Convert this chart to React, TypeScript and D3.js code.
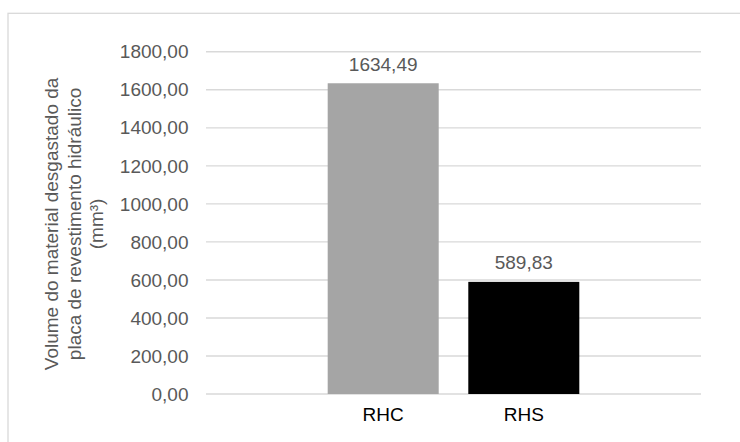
import React from "react";
import * as d3 from "d3";

const categories = ["RHC", "RHS"];
const values = [1634.49, 589.83];
const barColors = ["#a5a5a5", "#000000"];
const yTicks = [0, 200, 400, 600, 800, 1000, 1200, 1400, 1600, 1800];
const yTitleLines = [
  "Volume do material desgastado da",
  "placa de revestimento hidráulico",
  "(mm³)",
];

const W = 740;
const H = 442;
const plot = { left: 206, right: 701, top: 51.8, bottom: 394 };
const FONT = "'Liberation Sans', Arial, sans-serif";
const TEXT = "#595959";
const GRID = "#d9d9d9";

const locale = d3.formatLocale({
  decimal: ",",
  thousands: ".",
  grouping: [100],
  currency: ["", ""],
});
const fmt = locale.format(".2f");

export default function App() {
  const y = d3.scaleLinear().domain([0, 1800]).range([plot.bottom, plot.top]);
  const x = d3
    .scaleBand<string>()
    .domain(categories)
    .range([plot.left, plot.right])
    .paddingInner(0.2105)
    .paddingOuter(0.8655);

  const midY = (plot.top + plot.bottom) / 2 + 1;
  const titleX = [58, 80.5, 103];

  return (
    <svg
      width={W}
      height={H}
      style={{ position: "absolute", left: 0, top: 0, background: "#fff" }}
      fontFamily={FONT}
    >
      <rect x={0} y={0} width={W} height={H} fill="#fff" />
      <rect
        x={8}
        y={13.3}
        width={W + 10}
        height={H + 10}
        fill="none"
        stroke={GRID}
        strokeWidth={1.3}
      />
      {yTicks.map((t) => (
        <g key={t}>
          <line
            x1={plot.left}
            x2={plot.right}
            y1={y(t)}
            y2={y(t)}
            stroke={GRID}
            strokeWidth={1.4}
          />
          <text
            x={188.5}
            y={y(t)}
            dy="0.35em"
            textAnchor="end"
            fontSize={19}
            fill={TEXT}
          >
            {fmt(t)}
          </text>
        </g>
      ))}
      {categories.map((c, i) => (
        <g key={c}>
          <rect
            x={x(c)}
            y={y(values[i])}
            width={x.bandwidth()}
            height={y(0) - y(values[i])}
            fill={barColors[i]}
          />
          <text
            x={(x(c) as number) + x.bandwidth() / 2}
            y={y(values[i]) - 12.5}
            textAnchor="middle"
            fontSize={19}
            fill={TEXT}
          >
            {fmt(values[i])}
          </text>
          <text
            x={(x(c) as number) + x.bandwidth() / 2}
            y={421}
            textAnchor="middle"
            fontSize={19}
            fill="#000"
          >
            {c}
          </text>
        </g>
      ))}
      {yTitleLines.map((line, i) => (
        <text
          key={i}
          transform={`translate(${titleX[i]},${midY}) rotate(-90)`}
          textAnchor="middle"
          fontSize={19}
          fill={TEXT}
        >
          {line}
        </text>
      ))}
    </svg>
  );
}
